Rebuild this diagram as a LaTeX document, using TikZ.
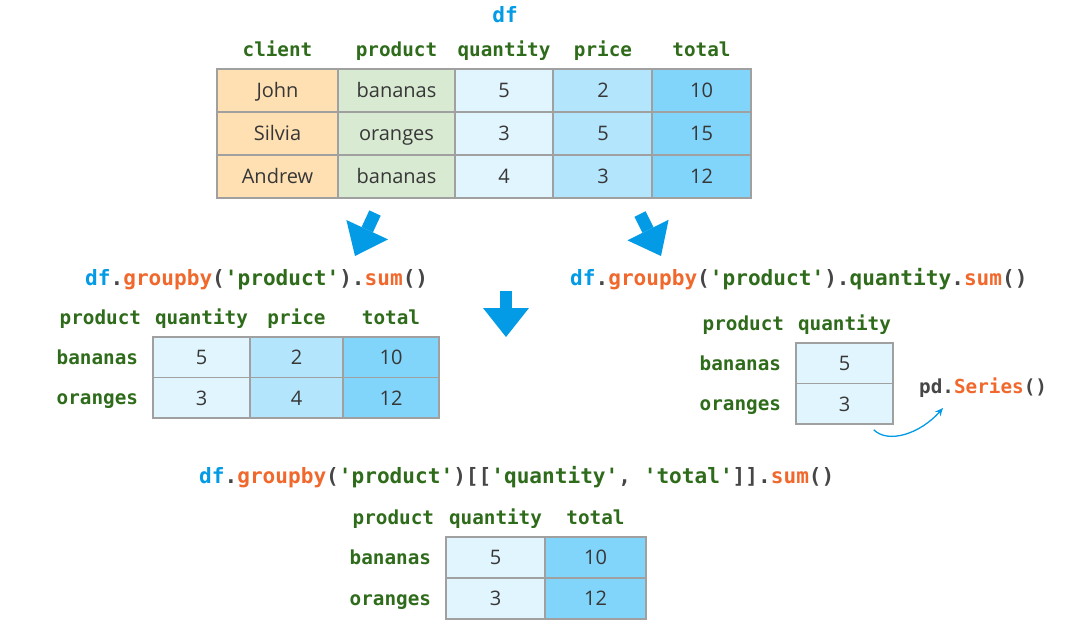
\documentclass[tikz,border=0pt]{standalone}
\usepackage{fontspec}
\setmonofont{DejaVu Sans Mono}
\newfontfamily\cellfont{Open Sans}
\usepackage{tikz}
\usetikzlibrary{arrows.meta,positioning}

\definecolor{codeblue}{RGB}{3,155,229}
\definecolor{codeorange}{RGB}{240,104,44}
\definecolor{codegreen}{RGB}{46,107,26}
\definecolor{codegray}{RGB}{70,70,70}
\definecolor{celltext}{RGB}{55,55,55}
\definecolor{cellline}{RGB}{160,160,160}
\definecolor{cellorange}{HTML}{FFE0B2}
\definecolor{cellgreen}{HTML}{D9EAD3}
\definecolor{cellblueA}{HTML}{E1F5FE}
\definecolor{cellblueB}{HTML}{B3E5FC}
\definecolor{cellblueC}{HTML}{81D4FA}

\newcommand\cblue[1]{\textcolor{codeblue}{#1}}
\newcommand\corange[1]{\textcolor{codeorange}{#1}}
\newcommand\cgreen[1]{\textcolor{codegreen}{#1}}

\tikzset{
  cell/.style={draw=cellline, line width=1.5pt, inner sep=0pt, text=celltext,
    text height=14.5pt, text depth=0pt, font=\cellfont\fontsize{20}{24}\selectfont},
  colhead/.style={font=\ttfamily\bfseries\fontsize{19.3}{23}\selectfont,
    text=codegreen, anchor=base, inner sep=0pt},
  rowhead/.style={colhead, text height=14pt, text depth=0pt, anchor=east},
  code/.style={font=\ttfamily\bfseries\fontsize{21.1}{25}\selectfont,
    text=codegray, anchor=base west, inner sep=0pt},
  bigarrow/.style={draw=codeblue, line width=12.5pt,
    -{Triangle[length=29pt,width=46pt,line width=0pt]}},
}

\begin{document}
\begin{tikzpicture}[x=1pt,y=-1pt]
  \useasboundingbox (0,0) rectangle (1077,635);

  % df
  \node[code, anchor=base, text=codeblue] (dfname) at (505,22) {df};
  \foreach \xc/\w/\fc/\a/\b/\c/\h [count=\i] in {
      277.5/121/cellorange/John/Silvia/Andrew/client,
      396.5/117/cellgreen/bananas/oranges/bananas/product,
      504/98/cellblueA/5/3/4/quantity,
      603/99/cellblueB/2/5/3/price,
      701.5/99/cellblueC/10/15/12/total}
  {
    \node[cell, fill=\fc, minimum width=\w pt, minimum height=43pt] (df-1-\i) at (\xc,90.5) {\a};
    \node[cell, fill=\fc, minimum width=\w pt, minimum height=43pt] (df-2-\i) at (\xc,133.5) {\b};
    \node[cell, fill=\fc, minimum width=\w pt, minimum height=43pt] (df-3-\i) at (\xc,176.5) {\c};
    \node[colhead] (dfh-\i) at ([yshift=12pt]df-1-\i.north) {\h};
  }

  % arrows
  \coordinate (la1) at (375,213);
  \coordinate (la2) at (355,256);
  \coordinate (ra1) at (640,214);
  \coordinate (ra2) at (661,256);
  \coordinate (ma1) at (506,291);
  \coordinate (ma2) at (506,337);
  \draw[bigarrow] (la1) -- (la2);
  \draw[bigarrow] (ra1) -- (ra2);
  \draw[bigarrow] (ma1) -- (ma2);

  % .sum()
  \node[code] (sumall) at (85,285)
    {\cblue{df}.\corange{groupby}(\cgreen{'product'}).\corange{sum}()};
  \foreach \xc/\w/\fc/\a/\b/\h [count=\i] in {
      201.5/97/cellblueA/5/3/quantity,
      296.5/93/cellblueB/2/4/price,
      391/96/cellblueC/10/12/total}
  {
    \node[cell, fill=\fc, minimum width=\w pt, minimum height=40.5pt] (sa-1-\i) at (\xc,357.25) {\a};
    \node[cell, fill=\fc, minimum width=\w pt, minimum height=40.5pt] (sa-2-\i) at (\xc,397.75) {\b};
    \node[colhead] (sah-\i) at ([yshift=12pt]sa-1-\i.north) {\h};
  }
  \node[colhead, anchor=base east] (sah-0) at ([xshift=-11pt,yshift=12pt]sa-1-1.north west) {product};
  \node[rowhead] (sar-1) at ([xshift=-14pt]sa-1-1.west) {bananas};
  \node[rowhead] (sar-2) at ([xshift=-14pt]sa-2-1.west) {oranges};

  % .quantity.sum()
  \node[code] (sumqty) at (570,285)
    {\cblue{df}.\corange{groupby}(\cgreen{'product'}).\cgreen{quantity}.\corange{sum}()};
  \node[cell, fill=cellblueA, minimum width=97pt, minimum height=40.5pt] (sq-1) at (844.5,363.25) {5};
  \node[cell, fill=cellblueA, minimum width=97pt, minimum height=40.5pt] (sq-2) at (844.5,403.75) {3};
  \node[colhead] (sqh-1) at ([yshift=12pt]sq-1.north) {quantity};
  \node[colhead, anchor=base east] (sqh-0) at ([xshift=-11pt,yshift=12pt]sq-1.north west) {product};
  \node[rowhead] (sqr-1) at ([xshift=-14pt]sq-1.west) {bananas};
  \node[rowhead] (sqr-2) at ([xshift=-14pt]sq-2.west) {oranges};

  % pd.Series()
  \node[colhead, text=codegray, anchor=base west] (series) at (919,393) {pd.\corange{Series}()};
  \coordinate (sqtail) at ([xshift=-20pt,yshift=-5pt]sq-2.south east);
  \coordinate (sertip) at ([xshift=24pt,yshift=-15pt]series.base west);
  \draw[codeblue, line width=1.3pt, -{Stealth[length=8pt,width=7pt]}]
    (sqtail) .. controls (888,444) and (920,434) .. (sertip);

  % [['quantity', 'total']].sum()
  \node[code] (sumsel) at (199,483)
    {\cblue{df}.\corange{groupby}(\cgreen{'product'})[[\cgreen{'quantity'}, \cgreen{'total'}]].\corange{sum}()};
  \foreach \xc/\w/\fc/\a/\b/\h [count=\i] in {
      495.5/99/cellblueA/5/3/quantity,
      595.5/101/cellblueC/10/12/total}
  {
    \node[cell, fill=\fc, minimum width=\w pt, minimum height=41pt] (ss-1-\i) at (\xc,557.5) {\a};
    \node[cell, fill=\fc, minimum width=\w pt, minimum height=41pt] (ss-2-\i) at (\xc,598.5) {\b};
    \node[colhead] (ssh-\i) at ([yshift=12pt]ss-1-\i.north) {\h};
  }
  \node[colhead, anchor=base east] (ssh-0) at ([xshift=-11pt,yshift=12pt]ss-1-1.north west) {product};
  \node[rowhead] (ssr-1) at ([xshift=-14pt]ss-1-1.west) {bananas};
  \node[rowhead] (ssr-2) at ([xshift=-14pt]ss-2-1.west) {oranges};
\end{tikzpicture}
\end{document}
